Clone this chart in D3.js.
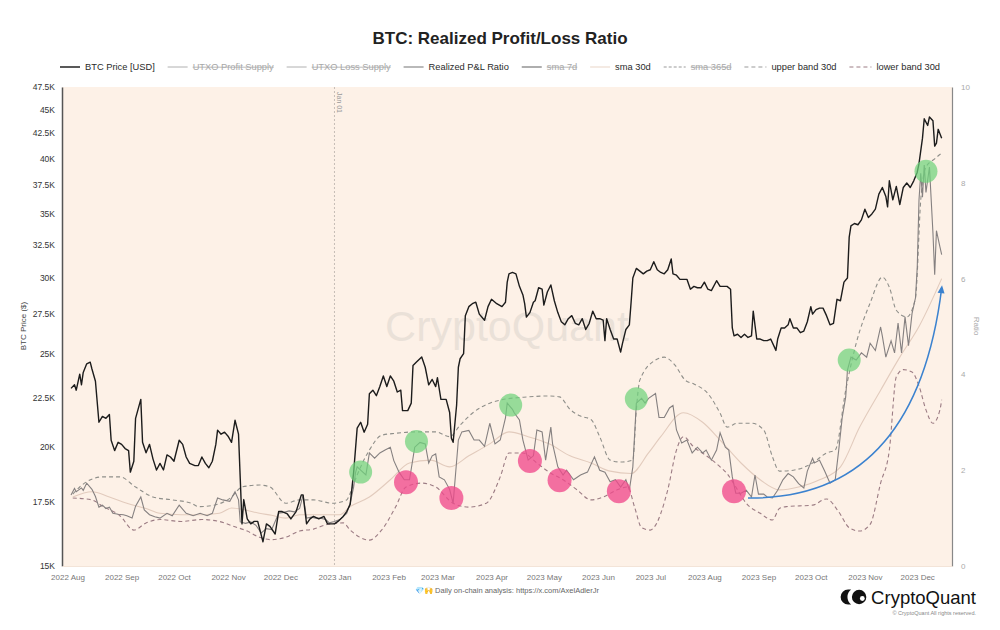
<!DOCTYPE html>
<html><head><meta charset="utf-8">
<script src="https://cdn.jsdelivr.net/npm/d3@7"></script>
<style>body{margin:0;background:#fff;} svg{display:block;font-family:"Liberation Sans",Arial,Helvetica,sans-serif;}</style>
</head><body><svg id="c" width="1000" height="630"></svg>
<script>
const chartTitle = "BTC: Realized Profit/Loss Ratio";
const legendNames = ["BTC Price [USD]","UTXO Profit Supply","UTXO Loss Supply","Realized P&L Ratio","sma 7d","sma 30d","sma 365d","upper band 30d","lower band 30d"];
const legendHidden = [false,true,true,false,true,false,true,false,false];
const priceTicks = [15000,17500,20000,22500,25000,27500,30000,32500,35000,37500,40000,42500,45000,47500];
const ratioTicks = [0,2,4,6,8,10];
const monthTicks = ["2022-08-01","2022-09-01","2022-10-01","2022-11-01","2022-12-01","2023-01-01","2023-02-01","2023-03-01","2023-04-01","2023-05-01","2023-06-01","2023-07-01","2023-08-01","2023-09-01","2023-10-01","2023-11-01","2023-12-01"];
const markerDate = "2023-01-01";

const btcPrice = [["2022-08-03",23000],["2022-08-05",23200],["2022-08-06",22900],["2022-08-08",23800],["2022-08-09",23200],["2022-08-10",23900],["2022-08-12",24400],["2022-08-14",24500],["2022-08-15",24100],["2022-08-17",23400],["2022-08-19",21200],["2022-08-21",21500],["2022-08-23",21400],["2022-08-25",21600],["2022-08-26",20300],["2022-08-28",19800],["2022-08-30",20200],["2022-09-01",20100],["2022-09-03",19900],["2022-09-05",19800],["2022-09-06",18800],["2022-09-08",19300],["2022-09-09",21400],["2022-09-12",22400],["2022-09-13",20200],["2022-09-15",19700],["2022-09-17",20100],["2022-09-19",19400],["2022-09-21",18900],["2022-09-23",19200],["2022-09-25",18900],["2022-09-27",19600],["2022-09-29",19500],["2022-10-01",19300],["2022-10-04",20300],["2022-10-06",20100],["2022-10-08",19500],["2022-10-10",19200],["2022-10-13",19100],["2022-10-15",19100],["2022-10-17",19500],["2022-10-19",19200],["2022-10-21",19000],["2022-10-23",19300],["2022-10-25",20100],["2022-10-26",20800],["2022-10-28",20600],["2022-10-30",20700],["2022-11-01",20500],["2022-11-03",20200],["2022-11-05",21300],["2022-11-07",20600],["2022-11-08",18500],["2022-11-09",16600],["2022-11-10",17600],["2022-11-12",16800],["2022-11-14",16600],["2022-11-16",16700],["2022-11-18",16700],["2022-11-21",15900],["2022-11-23",16600],["2022-11-25",16500],["2022-11-28",16200],["2022-11-30",17100],["2022-12-02",17100],["2022-12-05",17000],["2022-12-07",16800],["2022-12-10",17100],["2022-12-13",17800],["2022-12-14",17800],["2022-12-16",16600],["2022-12-18",16800],["2022-12-20",16900],["2022-12-23",16800],["2022-12-26",16900],["2022-12-28",16600],["2022-12-30",16600],["2023-01-01",16600],["2023-01-03",16700],["2023-01-06",16900],["2023-01-08",17100],["2023-01-10",17400],["2023-01-12",18800],["2023-01-14",20900],["2023-01-16",21200],["2023-01-18",20700],["2023-01-20",21100],["2023-01-21",22700],["2023-01-23",22900],["2023-01-25",22600],["2023-01-27",23100],["2023-01-29",23700],["2023-01-31",23100],["2023-02-02",23700],["2023-02-04",23400],["2023-02-06",22800],["2023-02-08",22900],["2023-02-09",21800],["2023-02-12",21800],["2023-02-14",22200],["2023-02-15",24300],["2023-02-17",24500],["2023-02-20",24800],["2023-02-22",24200],["2023-02-24",23200],["2023-02-26",23500],["2023-02-28",23100],["2023-03-01",23600],["2023-03-03",22400],["2023-03-06",22400],["2023-03-08",21700],["2023-03-09",20400],["2023-03-10",20200],["2023-03-12",22100],["2023-03-13",24200],["2023-03-14",24700],["2023-03-16",25000],["2023-03-17",27400],["2023-03-19",28000],["2023-03-21",28200],["2023-03-23",28300],["2023-03-25",27500],["2023-03-28",27100],["2023-03-30",28000],["2023-04-01",28500],["2023-04-04",28200],["2023-04-07",28000],["2023-04-09",28300],["2023-04-10",29700],["2023-04-11",30300],["2023-04-13",30400],["2023-04-15",30300],["2023-04-17",29400],["2023-04-19",28800],["2023-04-20",28200],["2023-04-21",27300],["2023-04-23",27600],["2023-04-25",28300],["2023-04-26",28400],["2023-04-28",29300],["2023-04-30",29200],["2023-05-01",28100],["2023-05-03",29000],["2023-05-05",29500],["2023-05-07",28400],["2023-05-09",27600],["2023-05-11",27000],["2023-05-13",26800],["2023-05-15",27200],["2023-05-17",27400],["2023-05-19",26900],["2023-05-21",26800],["2023-05-23",27200],["2023-05-25",26500],["2023-05-27",26900],["2023-05-29",27700],["2023-05-31",27200],["2023-06-02",27200],["2023-06-04",27100],["2023-06-05",25800],["2023-06-06",27200],["2023-06-08",26500],["2023-06-10",25900],["2023-06-12",25900],["2023-06-14",25100],["2023-06-15",25600],["2023-06-17",26500],["2023-06-19",26800],["2023-06-20",28300],["2023-06-21",30000],["2023-06-23",30700],["2023-06-25",30500],["2023-06-27",30300],["2023-06-29",30500],["2023-07-01",30600],["2023-07-03",31200],["2023-07-05",30600],["2023-07-07",30400],["2023-07-09",30300],["2023-07-11",30600],["2023-07-13",31400],["2023-07-14",30300],["2023-07-16",30200],["2023-07-18",29900],["2023-07-20",29900],["2023-07-22",29900],["2023-07-24",29200],["2023-07-26",29400],["2023-07-28",29300],["2023-07-30",29300],["2023-08-01",29700],["2023-08-03",29200],["2023-08-05",29100],["2023-08-08",29800],["2023-08-10",29400],["2023-08-12",29400],["2023-08-14",29400],["2023-08-16",29200],["2023-08-17",26600],["2023-08-18",26100],["2023-08-20",26200],["2023-08-22",26000],["2023-08-24",26200],["2023-08-26",26000],["2023-08-28",26100],["2023-08-29",27700],["2023-08-31",25900],["2023-09-02",25900],["2023-09-04",25800],["2023-09-06",25800],["2023-09-08",25900],["2023-09-11",25200],["2023-09-12",25900],["2023-09-14",26600],["2023-09-16",26600],["2023-09-18",26800],["2023-09-19",27200],["2023-09-21",26600],["2023-09-23",26600],["2023-09-25",26300],["2023-09-27",26400],["2023-09-29",27000],["2023-10-01",28000],["2023-10-02",27500],["2023-10-04",27800],["2023-10-06",27900],["2023-10-08",27900],["2023-10-10",27400],["2023-10-12",26800],["2023-10-14",26900],["2023-10-16",28500],["2023-10-18",28400],["2023-10-20",29700],["2023-10-22",30000],["2023-10-23",33100],["2023-10-24",34000],["2023-10-26",34200],["2023-10-28",34100],["2023-10-30",34500],["2023-11-01",35400],["2023-11-03",34700],["2023-11-05",35000],["2023-11-07",35400],["2023-11-09",36700],["2023-11-11",37300],["2023-11-13",36500],["2023-11-14",35600],["2023-11-15",37900],["2023-11-17",36200],["2023-11-19",37400],["2023-11-21",35800],["2023-11-23",37300],["2023-11-25",37700],["2023-11-27",37300],["2023-11-29",37900],["2023-12-01",38700],["2023-12-02",39500],["2023-12-04",42000],["2023-12-05",44000],["2023-12-07",43300],["2023-12-08",44200],["2023-12-10",43800],["2023-12-11",41200],["2023-12-12",41500],["2023-12-13",42900],["2023-12-15",42000]];

const plRatio = [["2022-08-03",1.48],["2022-08-05",1.62],["2022-08-06",1.55],["2022-08-09",1.63],["2022-08-10",1.58],["2022-08-12",1.73],["2022-08-15",1.6],["2022-08-17",1.45],["2022-08-19",1.23],["2022-08-21",1.27],["2022-08-23",1.2],["2022-08-25",1.23],["2022-08-27",1.1],["2022-08-30",1.08],["2022-09-02",1.07],["2022-09-04",1.05],["2022-09-07",1.0],["2022-09-09",1.25],["2022-09-12",1.44],["2022-09-14",1.17],["2022-09-17",1.07],["2022-09-20",1.03],["2022-09-23",1.0],["2022-09-27",1.1],["2022-09-30",1.05],["2022-10-04",1.27],["2022-10-08",1.1],["2022-10-12",1.05],["2022-10-16",1.1],["2022-10-20",1.05],["2022-10-23",1.1],["2022-10-26",1.42],["2022-10-29",1.38],["2022-11-02",1.35],["2022-11-05",1.55],["2022-11-07",1.38],["2022-11-08",0.92],["2022-11-11",0.89],["2022-11-14",0.92],["2022-11-17",0.85],["2022-11-20",0.69],["2022-11-23",0.78],["2022-11-26",0.76],["2022-11-30",1.1],["2022-12-03",1.12],["2022-12-06",1.15],["2022-12-09",1.13],["2022-12-12",1.2],["2022-12-14",1.48],["2022-12-16",1.0],["2022-12-19",1.02],["2022-12-21",1.0],["2022-12-24",1.0],["2022-12-27",0.97],["2022-12-29",0.9],["2023-01-01",0.93],["2023-01-04",0.97],["2023-01-08",1.1],["2023-01-10",1.31],["2023-01-12",1.65],["2023-01-13",1.94],["2023-01-14",2.07],["2023-01-16",2.0],["2023-01-19",1.9],["2023-01-21",2.36],["2023-01-24",2.25],["2023-01-27",2.36],["2023-01-30",2.42],["2023-02-02",2.48],["2023-02-04",2.2],["2023-02-07",1.96],["2023-02-10",1.8],["2023-02-13",1.8],["2023-02-16",2.48],["2023-02-19",2.58],["2023-02-22",2.55],["2023-02-24",2.15],["2023-02-26",2.3],["2023-02-28",2.34],["2023-03-02",1.86],["2023-03-05",1.8],["2023-03-08",1.6],["2023-03-10",1.31],["2023-03-13",2.63],["2023-03-15",2.8],["2023-03-19",2.83],["2023-03-22",2.63],["2023-03-25",2.63],["2023-03-28",2.5],["2023-03-31",2.98],["2023-04-03",2.55],["2023-04-06",2.63],["2023-04-09",3.09],["2023-04-10",3.4],["2023-04-13",3.27],["2023-04-14",3.2],["2023-04-17",3.05],["2023-04-19",2.63],["2023-04-22",2.21],["2023-04-25",2.3],["2023-04-27",2.84],["2023-04-30",2.8],["2023-05-02",2.21],["2023-05-05",2.9],["2023-05-06",2.55],["2023-05-09",2.07],["2023-05-12",1.9],["2023-05-14",2.0],["2023-05-18",1.8],["2023-05-22",1.9],["2023-05-26",1.96],["2023-05-30",2.28],["2023-06-02",2.0],["2023-06-05",1.96],["2023-06-08",1.76],["2023-06-11",1.8],["2023-06-14",1.65],["2023-06-17",1.8],["2023-06-19",1.59],["2023-06-21",2.07],["2023-06-23",3.4],["2023-06-26",3.5],["2023-06-28",3.4],["2023-06-30",3.5],["2023-07-04",3.6],["2023-07-06",3.1],["2023-07-09",3.1],["2023-07-12",3.3],["2023-07-14",3.35],["2023-07-16",2.84],["2023-07-19",2.57],["2023-07-22",2.63],["2023-07-25",2.36],["2023-07-28",2.48],["2023-07-31",2.36],["2023-08-02",2.42],["2023-08-05",2.21],["2023-08-08",2.42],["2023-08-10",2.78],["2023-08-13",2.48],["2023-08-15",2.42],["2023-08-17",1.86],["2023-08-19",1.52],["2023-08-22",1.52],["2023-08-25",1.58],["2023-08-28",1.44],["2023-08-30",1.9],["2023-09-01",1.5],["2023-09-04",1.5],["2023-09-06",1.44],["2023-09-09",1.42],["2023-09-12",1.58],["2023-09-15",1.8],["2023-09-18",1.93],["2023-09-21",1.86],["2023-09-24",1.72],["2023-09-27",1.63],["2023-09-29",1.98],["2023-10-02",2.25],["2023-10-03",2.15],["2023-10-06",2.21],["2023-10-09",1.98],["2023-10-12",1.73],["2023-10-15",1.8],["2023-10-17",2.42],["2023-10-19",3.1],["2023-10-21",3.53],["2023-10-22",4.09],["2023-10-24",4.36],["2023-10-27",4.3],["2023-10-30",4.45],["2023-11-02",4.36],["2023-11-04",4.65],["2023-11-07",4.5],["2023-11-10",4.99],["2023-11-11",4.8],["2023-11-13",4.36],["2023-11-16",4.7],["2023-11-18",4.45],["2023-11-20",5.07],["2023-11-22",4.45],["2023-11-24",5.2],["2023-11-26",4.6],["2023-11-28",5.27],["2023-11-30",5.6],["2023-12-01",6.24],["2023-12-02",7.64],["2023-12-03",8.2],["2023-12-04",7.7],["2023-12-05",8.37],["2023-12-06",7.8],["2023-12-08",8.33],["2023-12-10",6.95],["2023-12-11",6.08],["2023-12-12",7.0],["2023-12-14",6.66],["2023-12-15",6.5]];

const sma30 = [["2022-08-04",1.44],["2022-08-15",1.55],["2022-08-25",1.44],["2022-09-04",1.31],["2022-09-15",1.2],["2022-09-23",1.1],["2022-10-05",1.07],["2022-10-17",1.07],["2022-10-27",1.1],["2022-11-03",1.21],["2022-11-11",1.17],["2022-11-19",1.1],["2022-11-26",1.06],["2022-12-04",1.0],["2022-12-12",1.07],["2022-12-20",1.07],["2022-12-28",1.07],["2023-01-04",1.07],["2023-01-10",1.24],["2023-01-21",1.44],["2023-02-02",1.8],["2023-02-13",2.15],["2023-02-25",2.21],["2023-03-08",2.07],["2023-03-19",2.3],["2023-03-31",2.55],["2023-04-11",2.8],["2023-04-22",2.7],["2023-05-04",2.55],["2023-05-16",2.3],["2023-05-28",2.15],["2023-06-08",1.98],["2023-06-20",1.93],["2023-06-30",2.36],["2023-07-07",2.7],["2023-07-20",3.2],["2023-07-31",3.0],["2023-08-10",2.63],["2023-08-22",2.15],["2023-09-02",1.8],["2023-09-13",1.59],["2023-09-24",1.65],["2023-10-06",1.8],["2023-10-18",2.07],["2023-10-29",2.9],["2023-11-10",3.67],["2023-11-21",4.36],["2023-12-02",5.0],["2023-12-15",6.0]];

const upperBand = [["2022-08-04",1.5],["2022-08-08",1.65],["2022-08-21",1.86],["2022-08-31",1.86],["2022-09-09",1.65],["2022-09-19",1.44],["2022-09-30",1.38],["2022-10-11",1.31],["2022-10-15",1.24],["2022-10-24",1.27],["2022-11-03",1.44],["2022-11-09",1.65],["2022-11-19",1.69],["2022-11-25",1.65],["2022-12-04",1.31],["2022-12-12",1.38],["2022-12-20",1.38],["2022-12-31",1.31],["2023-01-08",1.38],["2023-01-10",1.52],["2023-01-14",1.9],["2023-01-21",2.42],["2023-01-28",2.73],["2023-02-05",2.77],["2023-02-17",2.8],["2023-02-28",2.8],["2023-03-08",2.7],["2023-03-14",2.94],["2023-03-21",3.19],["2023-03-31",3.4],["2023-04-07",3.47],["2023-04-22",3.53],["2023-05-04",3.55],["2023-05-10",3.53],["2023-05-16",3.27],["2023-05-22",3.13],["2023-05-28",3.06],["2023-06-02",2.7],["2023-06-08",2.21],["2023-06-14",2.17],["2023-06-21",2.21],["2023-06-23",3.26],["2023-06-25",3.88],["2023-07-04",4.3],["2023-07-09",4.36],["2023-07-15",4.2],["2023-07-21",3.88],["2023-07-26",3.8],["2023-08-03",3.6],["2023-08-10",3.19],["2023-08-14",2.9],["2023-08-20",2.98],["2023-08-28",2.98],["2023-09-04",2.84],["2023-09-09",2.28],["2023-09-13",1.98],["2023-09-21",2.0],["2023-10-02",2.15],["2023-10-10",2.36],["2023-10-15",2.42],["2023-10-21",3.67],["2023-10-27",4.65],["2023-11-04",5.49],["2023-11-11",6.03],["2023-11-15",5.82],["2023-11-19",5.34],["2023-11-25",5.2],["2023-11-30",5.6],["2023-12-03",7.64],["2023-12-06",8.33],["2023-12-11",8.5],["2023-12-15",8.62]];

const lowerBand = [["2022-08-04",1.42],["2022-08-15",1.38],["2022-08-21",1.25],["2022-08-31",1.05],["2022-09-08",0.75],["2022-09-15",0.9],["2022-09-23",0.97],["2022-10-05",0.93],["2022-10-17",0.97],["2022-10-27",0.93],["2022-11-04",0.83],["2022-11-12",0.73],["2022-11-19",0.6],["2022-11-26",0.55],["2022-12-04",0.6],["2022-12-12",0.73],["2022-12-20",0.77],["2022-12-28",0.87],["2023-01-06",0.9],["2023-01-10",0.75],["2023-01-21",0.54],["2023-01-28",0.75],["2023-02-05",1.23],["2023-02-11",1.65],["2023-02-20",1.73],["2023-02-28",1.65],["2023-03-10",1.31],["2023-03-19",1.23],["2023-03-29",1.31],["2023-04-06",1.86],["2023-04-11",2.36],["2023-04-19",2.36],["2023-04-27",2.15],["2023-05-04",1.96],["2023-05-12",1.8],["2023-05-20",1.59],["2023-05-28",1.38],["2023-06-04",1.44],["2023-06-12",1.59],["2023-06-18",1.65],["2023-06-22",1.23],["2023-06-26",0.8],["2023-07-01",0.75],["2023-07-03",0.8],["2023-07-11",1.59],["2023-07-16",2.42],["2023-07-20",2.7],["2023-07-26",2.48],["2023-08-03",2.28],["2023-08-10",2.07],["2023-08-14",1.93],["2023-08-20",1.59],["2023-08-25",1.31],["2023-09-02",1.1],["2023-09-09",0.96],["2023-09-13",1.2],["2023-09-17",1.24],["2023-10-02",1.27],["2023-10-10",1.4],["2023-10-17",1.13],["2023-10-23",0.8],["2023-10-29",0.73],["2023-11-04",0.87],["2023-11-10",1.73],["2023-11-15",2.42],["2023-11-19",3.95],["2023-11-23",4.1],["2023-11-28",4.05],["2023-12-02",3.76],["2023-12-06",3.26],["2023-12-10",2.98],["2023-12-14",3.26],["2023-12-15",3.47]];

const greenMarks = [["2023-01-16",1.96],["2023-02-17",2.6],["2023-04-12",3.36],["2023-06-23",3.49],["2023-10-23",4.3],["2023-12-06",8.24]];
const pinkMarks = [["2023-02-11",1.75],["2023-03-09",1.42],["2023-04-23",2.19],["2023-05-10",1.79],["2023-06-13",1.56],["2023-08-18",1.56]];
const trendArrow = [["2023-08-26",1.42],["2023-11-30",1.38],["2023-12-15",5.8]];

const footerNote = "💎🙌 Daily on-chain analysis: https://x.com/AxelAdlerJr";
const brandName = "CryptoQuant";
const copyright = "© CryptoQuant All rights reserved.";

// ---------- drawing ----------
const svg = d3.select("#c");
const L = 62, R = 952, T = 87, B = 566;
const parse = d3.utcParse("%Y-%m-%d");
const x = d3.scaleUtc().domain([new Date(Date.UTC(2022,6,28,20)), new Date(Date.UTC(2023,11,20,22))]).range([L, R]);
const yP = d3.scaleLog().domain([15000, 47500]).range([B, T]);
const yR = d3.scaleLinear().domain([0, 10]).range([B, T]);

svg.append("rect").attr("width",1000).attr("height",630).attr("fill","#fff");
svg.append("rect").attr("x",L).attr("y",T).attr("width",R-L).attr("height",B-T).attr("fill","#fdf1e7");

// title
svg.append("text").attr("x",500).attr("y",44).attr("text-anchor","middle")
  .attr("font-size",17).attr("font-weight","bold").attr("fill","#222").text(chartTitle);

// watermark
svg.append("text").attr("x",507).attr("y",341).attr("text-anchor","middle")
  .attr("font-size",43).attr("fill","#9a9a9a").attr("opacity",0.18).text(brandName);

// axes
const leftAxis = d3.axisLeft(yP).tickValues(priceTicks).tickSize(0).tickPadding(7)
  .tickFormat(d => (d/1000) + "K");
const gL = svg.append("g").attr("transform",`translate(${L},0)`).call(leftAxis);
gL.select(".domain").attr("stroke","#555").attr("stroke-width",1.5);
gL.selectAll("text").attr("font-size",8.5).attr("fill","#333").attr("font-family","Liberation Sans, Arial, sans-serif");

const rightAxis = d3.axisRight(yR).tickValues(ratioTicks).tickSize(0).tickPadding(9);
const gR = svg.append("g").attr("transform",`translate(${R},0)`).call(rightAxis);
gR.select(".domain").attr("stroke","#888").attr("stroke-width",1.2);
gR.selectAll("text").attr("font-size",8).attr("fill","#aaa").attr("font-family","Liberation Sans, Arial, sans-serif");

const bottomAxis = d3.axisBottom(x).tickValues(monthTicks.map(parse)).tickSize(0).tickPadding(8)
  .tickFormat(d3.utcFormat("%Y %b"));
const gB = svg.append("g").attr("transform",`translate(0,${B})`).call(bottomAxis);
gB.select(".domain").attr("stroke","#f3e4d8").attr("stroke-width",1);
gB.selectAll("text").attr("font-size",8).attr("fill","#777").attr("font-family","Liberation Sans, Arial, sans-serif");

svg.append("text").attr("transform","translate(26,326) rotate(-90)").attr("text-anchor","middle")
  .attr("font-size",8).attr("fill","#444").text("BTC Price ($)");
svg.append("text").attr("transform","translate(974,326) rotate(90)").attr("text-anchor","middle")
  .attr("font-size",8).attr("fill","#aaa").text("Ratio");

// Jan 01 marker
const xm = x(parse(markerDate));
svg.append("line").attr("x1",xm).attr("x2",xm).attr("y1",T).attr("y2",B)
  .attr("stroke","#b9b0aa").attr("stroke-width",0.8).attr("stroke-dasharray","2,2");
svg.append("text").attr("transform",`translate(${xm+2.5},92) rotate(90)`)
  .attr("font-size",7).attr("fill","#999").text("Jan 01");

// lines
const rLine = (curve) => d3.line().x(d => x(parse(d[0]))).y(d => yR(d[1])).curve(curve);
svg.append("path").datum(lowerBand).attr("d", rLine(d3.curveMonotoneX))
  .attr("fill","none").attr("stroke","#9c7c84").attr("stroke-width",1.1).attr("stroke-dasharray","4,3");
svg.append("path").datum(upperBand).attr("d", rLine(d3.curveMonotoneX))
  .attr("fill","none").attr("stroke","#8f8f8a").attr("stroke-width",1.1).attr("stroke-dasharray","4,3");
svg.append("path").datum(sma30).attr("d", rLine(d3.curveMonotoneX))
  .attr("fill","none").attr("stroke","#e2cbbd").attr("stroke-width",1.1);
svg.append("path").datum(plRatio).attr("d", rLine(d3.curveLinear))
  .attr("fill","none").attr("stroke","#858080").attr("stroke-width",1.1);

const pLine = d3.line().x(d => x(parse(d[0]))).y(d => yP(d[1]));
svg.append("path").datum(btcPrice).attr("d", pLine)
  .attr("fill","none").attr("stroke","#1c1c1c").attr("stroke-width",1.4).attr("stroke-linejoin","round");

// highlight circles
svg.append("g").selectAll("circle").data(greenMarks).join("circle")
  .attr("cx", d => x(parse(d[0]))).attr("cy", d => yR(d[1])).attr("r",11.5)
  .attr("fill","#6fd27c").attr("opacity",0.72);
svg.append("g").selectAll("circle").data(pinkMarks).join("circle")
  .attr("cx", d => x(parse(d[0]))).attr("cy", d => yR(d[1])).attr("r",12)
  .attr("fill","#f04a8c").attr("opacity",0.78);

// trend arrow
const ap = trendArrow.map(d => [x(parse(d[0])), yR(d[1])]);
const arrowPath = d3.path();
arrowPath.moveTo(ap[0][0], ap[0][1]);
arrowPath.quadraticCurveTo(ap[1][0], ap[1][1], ap[2][0], ap[2][1]);
svg.append("path").attr("d", arrowPath.toString()).attr("fill","none")
  .attr("stroke","#3b82cf").attr("stroke-width",1.5);
{
  const dx = ap[2][0]-ap[1][0], dy = ap[2][1]-ap[1][1];
  const len = Math.hypot(dx,dy), ux = dx/len, uy = dy/len;
  const tip = [ap[2][0]+ux*3, ap[2][1]+uy*3];
  const base = [tip[0]-ux*8, tip[1]-uy*8];
  const px = -uy, py = ux;
  svg.append("path").attr("d",`M${tip[0]},${tip[1]}L${base[0]+px*3.5},${base[1]+py*3.5}L${base[0]-px*3.5},${base[1]-py*3.5}Z`)
    .attr("fill","#3b82cf");
}

// legend
const legendStyles = [
  {stroke:"#222", dash:null, w:1.5},
  {stroke:"#b0b0b0", dash:null, w:1},
  {stroke:"#b0b0b0", dash:null, w:1},
  {stroke:"#8a8a8a", dash:null, w:1.2},
  {stroke:"#777", dash:null, w:1.2},
  {stroke:"#eddcd0", dash:null, w:1.2},
  {stroke:"#999", dash:"3,2", w:1},
  {stroke:"#999", dash:"4,3", w:1},
  {stroke:"#9c7c84", dash:"4,3", w:1}
];
const lg = svg.append("g");
const items = legendNames.map((name,i) => {
  const g = lg.append("g");
  const lineLen = legendStyles[i].dash ? 22 : 20;
  g.append("line").attr("x1",0).attr("x2",lineLen).attr("y1",0).attr("y2",0)
    .attr("stroke",legendStyles[i].stroke).attr("stroke-width",legendStyles[i].w)
    .attr("stroke-dasharray",legendStyles[i].dash);
  const t = g.append("text").attr("x",lineLen+5).attr("y",3.3).attr("font-size",9.3)
    .attr("fill", legendHidden[i] ? "#a8a8a8" : "#2a2a2a").text(name);
  const tw = t.node().getComputedTextLength();
  if (legendHidden[i]) {
    g.append("line").attr("x1",lineLen+5).attr("x2",lineLen+5+tw).attr("y1",0.2).attr("y2",0.2)
      .attr("stroke","#a8a8a8").attr("stroke-width",0.8);
  }
  return {g, w: lineLen+5+tw};
});
const totalW = d3.sum(items, d => d.w);
const gap = (880 - totalW) / (items.length - 1);
let cx = 60;
items.forEach(it => { it.g.attr("transform",`translate(${cx},67)`); cx += it.w + gap; });

// footer
svg.append("text").attr("x",415).attr("y",593).attr("font-size",7.5).attr("fill","#666").text(footerNote);
const brandText = svg.append("text").attr("x",976).attr("y",604).attr("text-anchor","end").attr("font-size",18.5)
  .attr("fill","#111").text(brandName);
const bw = brandText.node().getComputedTextLength();
const logo = svg.append("g").attr("transform",`translate(${976 - bw - 22},597)`);
logo.append("path").attr("d","M-1,-7.5 A7.5,7.5 0 0,0 -1,7.5 L2,7.5 A9.5,9.5 0 0,1 2,-7.5 Z").attr("fill","#111");
logo.append("circle").attr("cx",10).attr("cy",0).attr("r",7.2).attr("fill","#111");
logo.append("circle").attr("cx",13.2).attr("cy",1.5).attr("r",2.4).attr("fill","#fff");
svg.append("text").attr("x",976).attr("y",615).attr("text-anchor","end").attr("font-size",5.5)
  .attr("fill","#888").text(copyright);
</script></body></html>
